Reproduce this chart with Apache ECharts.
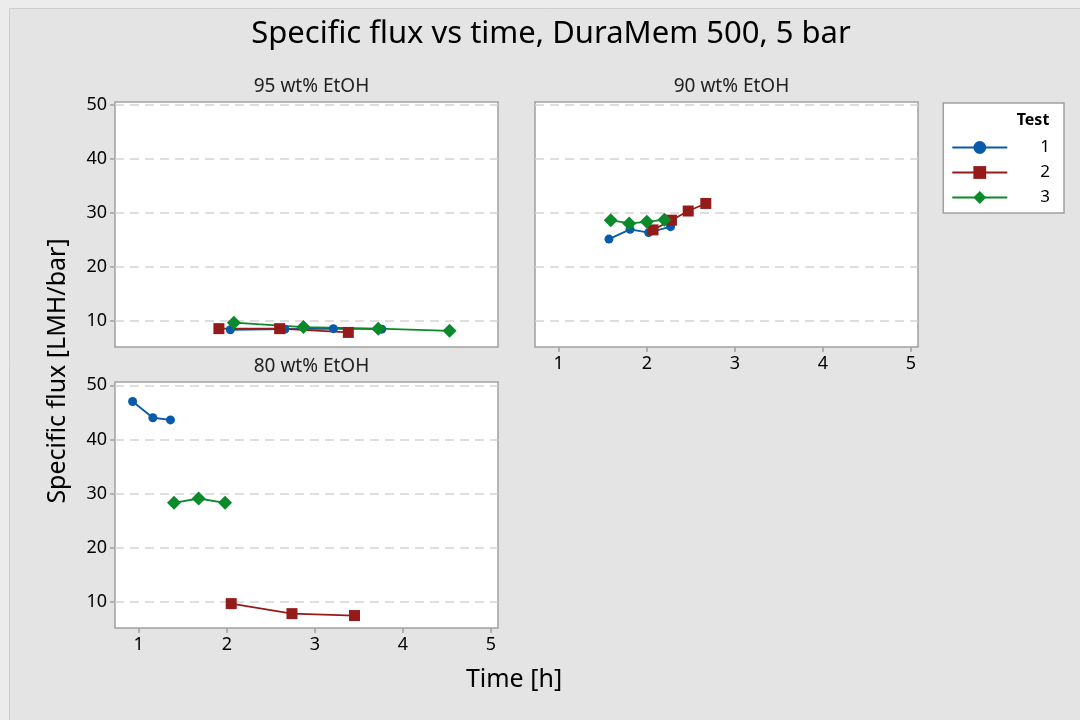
<!DOCTYPE html>
<html>
<head>
<meta charset="utf-8">
<script src="https://cdn.jsdelivr.net/npm/echarts@6/dist/echarts.min.js"></script>
<style>
  html, body { margin: 0; padding: 0; background: #ececec; }
  #main { width: 1080px; height: 720px; }
</style>
</head>
<body>
<div id="main"></div>
<script>
// panel titles
var panels = ['95 wt% EtOH', '90 wt% EtOH', '80 wt% EtOH']
var testNames = ['1', '2', '3']
var xTicks = [1, 2, 3, 4, 5]
var yTicks = [10, 20, 30, 40, 50]

// [time, flux] per test, per panel
var p95_t1 = [[2.04, 8.4], [2.66, 8.5], [3.21, 8.6], [3.76, 8.5]]
var p95_t2 = [[1.91, 8.6], [2.60, 8.6], [3.38, 7.9]]
var p95_t3 = [[2.08, 9.7], [2.87, 8.9], [3.72, 8.6], [4.53, 8.2]]

var p90_t1 = [[1.57, 25.2], [1.81, 27.0], [2.02, 26.4], [2.27, 27.5]]
var p90_t2 = [[2.07, 26.9], [2.28, 28.7], [2.47, 30.4], [2.67, 31.8]]
var p90_t3 = [[1.59, 28.7], [1.80, 28.1], [2.00, 28.4], [2.20, 28.8]]

var p80_t1 = [[0.93, 47.0], [1.16, 44.0], [1.36, 43.6]]
var p80_t2 = [[2.05, 9.7], [2.74, 7.85], [3.45, 7.5]]
var p80_t3 = [[1.40, 28.3], [1.68, 29.1], [1.98, 28.3]]

var panelData = [
  [p95_t1, p95_t2, p95_t3],
  [p90_t1, p90_t2, p90_t3],
  [p80_t1, p80_t2, p80_t3]
]

var colors = ['#0a5aab', '#951b1b', '#0a8a2a']
var symbols = ['circle', 'rect', 'diamond']
var symbolSizes = [9, 11, 14]

var font = 'Noto Sans'
var gridColor = '#a0a0a0'

var grids = [
  { left: 115, top: 102, width: 383, height: 245 },
  { left: 535, top: 102, width: 383, height: 245 },
  { left: 115, top: 382, width: 383, height: 246 }
]
var showX = [false, true, true]
var showY = [true, false, true]

var chart = echarts.init(document.getElementById('main'))

var option = {
  backgroundColor: '#ececec',
  textStyle: { fontFamily: font },
  title: [
    {
      text: 'Specific flux vs time, DuraMem 500, 5 bar',
      left: 546, top: 14, textAlign: 'center',
      textStyle: { fontFamily: font, fontSize: 31, fontWeight: 'normal', color: '#000' }
    }
  ],
  legend: {
    right: 16, top: 103,
    orient: 'vertical',
    data: testNames,
    itemWidth: 55, itemHeight: 16, itemGap: 8,
    padding: [36, 14, 7, 8],
    backgroundColor: '#fff',
    borderColor: gridColor, borderWidth: 1.5,
    textStyle: { fontFamily: font, fontSize: 17, color: '#000', padding: [0, 0, 0, 28] }
  },
  grid: [],
  xAxis: [],
  yAxis: [],
  series: [],
  graphic: [
    {
      type: 'rect', left: 9, top: 8, silent: true, z: -10,
      shape: { width: 1075, height: 716 },
      style: { fill: '#e4e4e4', stroke: '#cfcfcf', lineWidth: 1 }
    },
    {
      type: 'text', x: 58, y: 371, rotation: Math.PI / 2,
      style: { text: 'Specific flux [LMH/bar]', font: '25px "Noto Sans"', fill: '#000', textAlign: 'center', textVerticalAlign: 'middle' }
    },
    {
      type: 'text', x: 514, y: 680,
      style: { text: 'Time [h]', font: '25px "Noto Sans"', fill: '#000', textAlign: 'center', textVerticalAlign: 'middle' }
    },
    {
      type: 'text', x: 1033, y: 120, z: 20,
      style: { text: 'Test', font: 'bold 16px "Noto Sans"', fill: '#000', textAlign: 'center', textVerticalAlign: 'middle' }
    }
  ]
}

panels.forEach(function (name, i) {
  var g = grids[i]
  option.title.push({
    text: name,
    left: g.left + g.width / 2, top: g.top - 30, textAlign: 'center',
    textStyle: { fontFamily: font, fontSize: 19, fontWeight: 'normal', color: '#222' }
  })
  option.grid.push({
    left: g.left, top: g.top, width: g.width, height: g.height,
    show: true, backgroundColor: '#fff', borderColor: gridColor, borderWidth: 1.5
  })
  option.xAxis.push({
    type: 'value', gridIndex: i, min: 0.73, max: 5.08,
    axisLine: { show: false },
    axisTick: { show: showX[i], customValues: xTicks, length: 5, lineStyle: { color: gridColor, width: 1.5 } },
    axisLabel: { show: showX[i], customValues: xTicks, fontSize: 18, color: '#000', margin: 8, fontFamily: font },
    splitLine: { show: false }
  })
  option.yAxis.push({
    type: 'value', gridIndex: i, min: 5.2, max: 50.6,
    axisLine: { show: false },
    axisTick: { show: showY[i], customValues: yTicks, length: 5, lineStyle: { color: gridColor, width: 1.5 } },
    axisLabel: { show: showY[i], customValues: yTicks, fontSize: 18, color: '#000', margin: 8, fontFamily: font },
    splitLine: { show: true, lineStyle: { color: '#d4d4d4', type: [9, 6], width: 1.5 } }
  })
  panelData[i].forEach(function (d, k) {
    option.series.push({
      name: testNames[k],
      type: 'line',
      xAxisIndex: i, yAxisIndex: i,
      data: d,
      symbol: symbols[k],
      symbolSize: symbolSizes[k],
      showAllSymbol: true,
      itemStyle: { color: colors[k] },
      lineStyle: { color: colors[k], width: 1.8 },
      animation: false
    })
  })
})

chart.setOption(option)
</script>
</body>
</html>
